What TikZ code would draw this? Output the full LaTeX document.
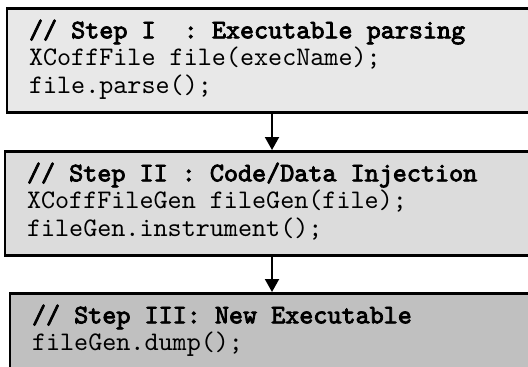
\documentclass[tikz,border=0pt]{standalone}
\usepackage{fontspec}
\setmonofont{lmmono10-regular}[Extension=.otf, BoldFont=lmmono10-regular, BoldFeatures={FakeBold=3}]
\usetikzlibrary{arrows.meta}
\definecolor{boxone}{HTML}{E8E8E8}
\definecolor{boxtwo}{HTML}{DCDCDC}
\definecolor{boxthree}{HTML}{C0C0C0}
\tikzset{
%Define standard arrow tip
>={Triangle[length=6.5pt,width=7pt]},
%Define style for the code boxes
codebox/.style={draw=black, line width=1.3pt, anchor=north, align=left,
  font=\ttfamily\fontsize{13.4pt}{13.75pt}\selectfont,
  execute at begin node={\spaceskip=7.035pt\relax},
  inner xsep=11pt, inner ysep=0pt, text height=15pt, text depth=37pt},
flow/.style={->, line width=1pt},
}

\begin{document}
\begin{tikzpicture}[x=0.5pt,y=0.5pt]

    \useasboundingbox (0,0) rectangle (528,366);

    % code boxes
    \node[codebox, fill=boxone, text width=243pt] (parse) at (272,359)
      {\textbf{// Step I~~: Executable parsing}\\
       XCoffFile file(execName);\\
       file.parse();};
    \node[codebox, fill=boxtwo, text width=245pt] (inject) at (272,216)
      {\textbf{// Step II : Code/Data Injection}\\
       XCoffFileGen fileGen(file);\\
       fileGen.instrument();};
    \node[codebox, fill=boxthree, text width=240pt] (dump) at (272,74)
      {\textbf{// Step III: New Executable}\\
       fileGen.dump();};

    % arrows
    \draw[flow] (parse.south) -- (inject.north);
    \draw[flow] (inject.south) -- (dump.north);

\end{tikzpicture}
\end{document}
